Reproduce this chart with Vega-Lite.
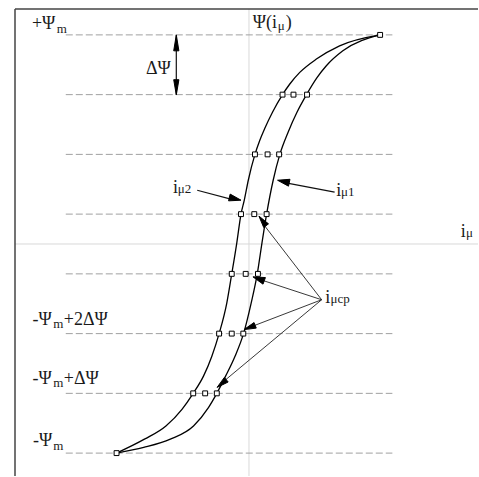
{
  "$schema": "https://vega.github.io/schema/vega-lite/v6.json",
  "width": 479,
  "height": 477,
  "autosize": {"type": "fit", "contains": "padding"},
  "padding": {"left": 14, "top": 8, "right": 0, "bottom": 0},
  "background": "white",
  "config": {"view": {"stroke": null}},
  "datasets": {
    "frame": [
      {"u": -7.833, "u2": -7.833, "v": -3.8833, "v2": 3.9333},
      {"u": -7.833, "u2": 7.667, "v": 3.9333, "v2": 3.9333}
    ],
    "axes": [
      {"u": 0, "u2": 0, "v": -3.8833, "v2": 3.9333},
      {"u": -7.833, "u2": 7.667, "v": 0, "v2": 0}
    ],
    "levels": [
      {"u": -6.133, "u2": 4.8, "v": 3.5},
      {"u": -6.133, "u2": 4.8, "v": 2.5},
      {"u": -6.133, "u2": 4.8, "v": 1.5},
      {"u": -6.133, "u2": 4.8, "v": 0.5},
      {"u": -6.133, "u2": 4.8, "v": -0.5},
      {"u": -6.133, "u2": 4.8, "v": -1.5},
      {"u": -6.133, "u2": 4.8, "v": -2.5},
      {"u": -6.133, "u2": 4.8, "v": -3.5}
    ],
    "curves": [
      {"branch": "i2", "k": 1, "u": -4.433, "v": -3.5},
      {"branch": "i2", "k": 2, "u": -3.5, "v": -3.267},
      {"branch": "i2", "k": 3, "u": -2.78, "v": -3.045},
      {"branch": "i2", "k": 4, "u": -2.243, "v": -2.767},
      {"branch": "i2", "k": 5, "u": -1.867, "v": -2.5},
      {"branch": "i2", "k": 6, "u": -1.523, "v": -2.212},
      {"branch": "i2", "k": 7, "u": -1.243, "v": -1.878},
      {"branch": "i2", "k": 8, "u": -1.0, "v": -1.5},
      {"branch": "i2", "k": 9, "u": -0.743, "v": -0.988},
      {"branch": "i2", "k": 10, "u": -0.577, "v": -0.5},
      {"branch": "i2", "k": 11, "u": -0.41, "v": 0.012},
      {"branch": "i2", "k": 12, "u": -0.267, "v": 0.5},
      {"branch": "i2", "k": 13, "u": -0.157, "v": 0.733},
      {"branch": "i2", "k": 14, "u": -0.023, "v": 1.067},
      {"branch": "i2", "k": 15, "u": 0.2, "v": 1.5},
      {"branch": "i2", "k": 16, "u": 0.36, "v": 1.733},
      {"branch": "i2", "k": 17, "u": 0.523, "v": 1.928},
      {"branch": "i2", "k": 18, "u": 0.787, "v": 2.205},
      {"branch": "i2", "k": 19, "u": 1.123, "v": 2.5},
      {"branch": "i2", "k": 20, "u": 1.367, "v": 2.678},
      {"branch": "i2", "k": 21, "u": 1.7, "v": 2.872},
      {"branch": "i2", "k": 22, "u": 2.257, "v": 3.095},
      {"branch": "i2", "k": 23, "u": 3.033, "v": 3.317},
      {"branch": "i2", "k": 24, "u": 4.39, "v": 3.5},
      {"branch": "i1", "k": 1, "u": -4.433, "v": -3.5},
      {"branch": "i1", "k": 2, "u": -3.523, "v": -3.405},
      {"branch": "i1", "k": 3, "u": -2.633, "v": -3.267},
      {"branch": "i1", "k": 4, "u": -1.857, "v": -3.045},
      {"branch": "i1", "k": 5, "u": -1.357, "v": -2.738},
      {"branch": "i1", "k": 6, "u": -1.077, "v": -2.5},
      {"branch": "i1", "k": 7, "u": -0.783, "v": -2.212},
      {"branch": "i1", "k": 8, "u": -0.467, "v": -1.878},
      {"branch": "i1", "k": 9, "u": -0.183, "v": -1.5},
      {"branch": "i1", "k": 10, "u": 0.073, "v": -0.988},
      {"branch": "i1", "k": 11, "u": 0.277, "v": -0.5},
      {"branch": "i1", "k": 12, "u": 0.433, "v": 0.012},
      {"branch": "i1", "k": 13, "u": 0.59, "v": 0.5},
      {"branch": "i1", "k": 14, "u": 0.81, "v": 1.067},
      {"branch": "i1", "k": 15, "u": 1.033, "v": 1.5},
      {"branch": "i1", "k": 16, "u": 1.31, "v": 1.872},
      {"branch": "i1", "k": 17, "u": 1.607, "v": 2.205},
      {"branch": "i1", "k": 18, "u": 1.927, "v": 2.5},
      {"branch": "i1", "k": 19, "u": 2.283, "v": 2.788},
      {"branch": "i1", "k": 20, "u": 2.59, "v": 2.983},
      {"branch": "i1", "k": 21, "u": 3.143, "v": 3.233},
      {"branch": "i1", "k": 22, "u": 4.39, "v": 3.5}
    ],
    "squares": [
      {"u": 4.39, "v": 3.5}, {"u": -4.433, "v": -3.5},
      {"u": 1.123, "v": 2.5}, {"u": 1.49, "v": 2.5}, {"u": 1.943, "v": 2.5},
      {"u": 0.2, "v": 1.5}, {"u": 0.623, "v": 1.5}, {"u": 1.01, "v": 1.5},
      {"u": -0.267, "v": 0.5}, {"u": 0.177, "v": 0.5}, {"u": 0.59, "v": 0.5},
      {"u": -0.577, "v": -0.5}, {"u": -0.11, "v": -0.5}, {"u": 0.3, "v": -0.5},
      {"u": -1.0, "v": -1.5}, {"u": -0.577, "v": -1.5}, {"u": -0.19, "v": -1.5},
      {"u": -1.867, "v": -2.5}, {"u": -1.467, "v": -2.5}, {"u": -1.077, "v": -2.5}
    ],
    "shafts": [
      {"id": "dpsi", "grp": "main", "k": 0, "u": -2.433, "v": 3.49},
      {"id": "dpsi", "grp": "main", "k": 1, "u": -2.433, "v": 2.505},
      {"id": "i2", "grp": "main", "k": 0, "u": -1.733, "v": 0.9},
      {"id": "i2", "grp": "main", "k": 1, "u": -0.45, "v": 0.73},
      {"id": "i1", "grp": "main", "k": 0, "u": 2.867, "v": 0.867},
      {"id": "i1", "grp": "main", "k": 1, "u": 1.15, "v": 1.03},
      {"id": "a", "grp": "cp", "k": 0, "u": 2.433, "v": -0.933},
      {"id": "a", "grp": "cp", "k": 1, "u": 0.5, "v": 0.32},
      {"id": "b", "grp": "cp", "k": 0, "u": 2.433, "v": -0.933},
      {"id": "b", "grp": "cp", "k": 1, "u": 0.4, "v": -0.6},
      {"id": "c", "grp": "cp", "k": 0, "u": 2.433, "v": -0.933},
      {"id": "c", "grp": "cp", "k": 1, "u": 0.1, "v": -1.38},
      {"id": "d", "grp": "cp", "k": 0, "u": 2.433, "v": -0.933},
      {"id": "d", "grp": "cp", "k": 1, "u": -0.8, "v": -2.28}
    ],
    "heads": [
      {"id": "dpsiT", "k": 0, "u": -2.52, "v": 3.233},
      {"id": "dpsiT", "k": 1, "u": -2.433, "v": 3.5},
      {"id": "dpsiT", "k": 2, "u": -2.346, "v": 3.233},
      {"id": "dpsiT", "k": 3, "u": -2.52, "v": 3.233},
      {"id": "dpsiB", "k": 0, "u": -2.52, "v": 2.75},
      {"id": "dpsiB", "k": 1, "u": -2.433, "v": 2.495},
      {"id": "dpsiB", "k": 2, "u": -2.346, "v": 2.75},
      {"id": "dpsiB", "k": 3, "u": -2.52, "v": 2.75},
      {"id": "i2", "k": 0, "u": -0.683, "v": 0.722},
      {"id": "i2", "k": 1, "u": -0.267, "v": 0.733},
      {"id": "i2", "k": 2, "u": -0.63, "v": 0.835},
      {"id": "i2", "k": 3, "u": -0.683, "v": 0.722},
      {"id": "i1", "k": 0, "u": 1.373, "v": 1.083},
      {"id": "i1", "k": 1, "u": 0.957, "v": 1.067},
      {"id": "i1", "k": 2, "u": 1.323, "v": 0.968},
      {"id": "i1", "k": 3, "u": 1.373, "v": 1.083},
      {"id": "a", "k": 0, "u": 0.653, "v": 0.337},
      {"id": "a", "k": 1, "u": 0.333, "v": 0.467},
      {"id": "a", "k": 2, "u": 0.493, "v": 0.277},
      {"id": "a", "k": 3, "u": 0.653, "v": 0.337},
      {"id": "b", "k": 0, "u": 0.55, "v": -0.562},
      {"id": "b", "k": 1, "u": 0.133, "v": -0.55},
      {"id": "b", "k": 2, "u": 0.47, "v": -0.672},
      {"id": "b", "k": 3, "u": 0.55, "v": -0.562},
      {"id": "c", "k": 0, "u": 0.243, "v": -1.408},
      {"id": "c", "k": 1, "u": -0.167, "v": -1.433},
      {"id": "c", "k": 2, "u": 0.17, "v": -1.315},
      {"id": "c", "k": 3, "u": 0.243, "v": -1.408},
      {"id": "d", "k": 0, "u": -0.697, "v": -2.31},
      {"id": "d", "k": 1, "u": -1.067, "v": -2.4},
      {"id": "d", "k": 2, "u": -0.823, "v": -2.233},
      {"id": "d", "k": 3, "u": -0.697, "v": -2.31}
    ],
    "mainText": [
      {"u": -7.267, "v": 3.6, "t": "+Ψ"},
      {"u": -3.45, "v": 2.85, "t": "ΔΨ"},
      {"u": -7.25, "v": -1.35, "t": "-Ψ"},
      {"u": -6.2, "v": -1.35, "t": "+2ΔΨ"},
      {"u": -7.25, "v": -2.35, "t": "-Ψ"},
      {"u": -6.2, "v": -2.35, "t": "+ΔΨ"},
      {"u": -7.233, "v": -3.383, "t": "-Ψ"},
      {"u": 0.123, "v": 3.617, "t": "Ψ(i"},
      {"u": 1.233, "v": 3.617, "t": ")"},
      {"u": -2.543, "v": 0.85, "t": "i"},
      {"u": 2.923, "v": 0.8, "t": "i"},
      {"u": 7.09, "v": 0.125, "t": "i"},
      {"u": 2.557, "v": -0.983, "t": "i"}
    ],
    "subText": [
      {"u": -6.433, "v": 3.533, "t": "m"},
      {"u": -6.55, "v": -1.4, "t": "m"},
      {"u": -6.55, "v": -2.4, "t": "m"},
      {"u": -6.55, "v": -3.45, "t": "m"},
      {"u": 0.967, "v": 3.583, "t": "μ"},
      {"u": -2.383, "v": 0.85, "t": "μ2"},
      {"u": 3.083, "v": 0.8, "t": "μ1"},
      {"u": 7.267, "v": 0.125, "t": "μ"},
      {"u": 2.733, "v": -0.983, "t": "μcp"}
    ]
  },
  "layer": [
    {
      "data": {"name": "axes"},
      "mark": {"type": "rule", "color": "#d9d9d9", "strokeWidth": 1},
      "encoding": {
        "x": {"field": "u", "type": "quantitative",
              "scale": {"domain": [-7.833, 7.667], "nice": false, "zero": false}, "axis": null},
        "x2": {"field": "u2"},
        "y": {"field": "v", "type": "quantitative",
              "scale": {"domain": [-3.8833, 3.9333], "nice": false, "zero": false}, "axis": null},
        "y2": {"field": "v2"}
      }
    },
    {
      "data": {"name": "frame"},
      "mark": {"type": "rule", "color": "#444444", "strokeWidth": 1.5},
      "encoding": {
        "x": {"field": "u", "type": "quantitative", "axis": null},
        "x2": {"field": "u2"},
        "y": {"field": "v", "type": "quantitative", "axis": null},
        "y2": {"field": "v2"}
      }
    },
    {
      "data": {"name": "levels"},
      "mark": {"type": "rule", "color": "#a0a0a0", "strokeWidth": 1, "strokeDash": [7, 3]},
      "encoding": {
        "x": {"field": "u", "type": "quantitative", "axis": null},
        "x2": {"field": "u2"},
        "y": {"field": "v", "type": "quantitative", "axis": null}
      }
    },
    {
      "data": {"name": "curves"},
      "mark": {"type": "line", "color": "black", "strokeWidth": 1.3, "interpolate": "monotone"},
      "encoding": {
        "x": {"field": "u", "type": "quantitative", "axis": null},
        "y": {"field": "v", "type": "quantitative", "axis": null},
        "detail": {"field": "branch"},
        "order": {"field": "k", "type": "quantitative"}
      }
    },
    {
      "data": {"name": "shafts"},
      "transform": [{"filter": "datum.grp === 'main'"}],
      "mark": {"type": "line", "color": "#111111", "strokeWidth": 1.2},
      "encoding": {
        "x": {"field": "u", "type": "quantitative", "axis": null},
        "y": {"field": "v", "type": "quantitative", "axis": null},
        "detail": {"field": "id"},
        "order": {"field": "k", "type": "quantitative"}
      }
    },
    {
      "data": {"name": "shafts"},
      "transform": [{"filter": "datum.grp === 'cp'"}],
      "mark": {"type": "line", "color": "#222222", "strokeWidth": 0.9},
      "encoding": {
        "x": {"field": "u", "type": "quantitative", "axis": null},
        "y": {"field": "v", "type": "quantitative", "axis": null},
        "detail": {"field": "id"},
        "order": {"field": "k", "type": "quantitative"}
      }
    },
    {
      "data": {"name": "heads"},
      "mark": {"type": "line", "color": "black", "fill": "black", "strokeWidth": 1},
      "encoding": {
        "x": {"field": "u", "type": "quantitative", "axis": null},
        "y": {"field": "v", "type": "quantitative", "axis": null},
        "detail": {"field": "id"},
        "order": {"field": "k", "type": "quantitative"}
      }
    },
    {
      "data": {"name": "squares"},
      "mark": {"type": "point", "shape": "square", "size": 24, "filled": true, "fill": "white", "stroke": "black", "strokeWidth": 1, "opacity": 1},
      "encoding": {
        "x": {"field": "u", "type": "quantitative", "axis": null},
        "y": {"field": "v", "type": "quantitative", "axis": null}
      }
    },
    {
      "data": {"name": "mainText"},
      "mark": {"type": "text", "font": "Liberation Serif", "fontSize": 18, "align": "left", "baseline": "alphabetic", "color": "#1a1a1a"},
      "encoding": {
        "x": {"field": "u", "type": "quantitative", "axis": null},
        "y": {"field": "v", "type": "quantitative", "axis": null},
        "text": {"field": "t"}
      }
    },
    {
      "data": {"name": "subText"},
      "mark": {"type": "text", "font": "Liberation Serif", "fontSize": 13, "align": "left", "baseline": "alphabetic", "color": "#1a1a1a"},
      "encoding": {
        "x": {"field": "u", "type": "quantitative", "axis": null},
        "y": {"field": "v", "type": "quantitative", "axis": null},
        "text": {"field": "t"}
      }
    }
  ]
}
